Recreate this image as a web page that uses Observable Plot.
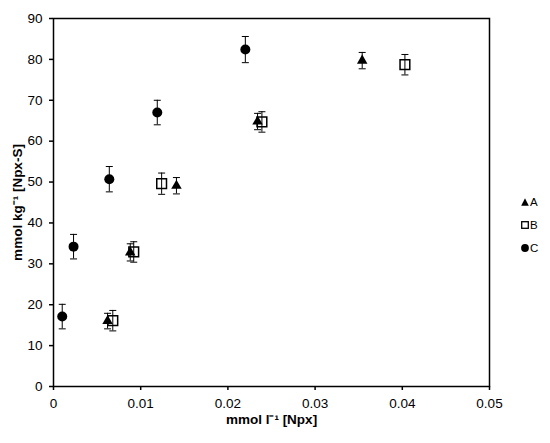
<!DOCTYPE html>
<html>
<head>
<meta charset="utf-8">
<script src="https://cdn.jsdelivr.net/npm/d3@7"></script>
<script src="https://cdn.jsdelivr.net/npm/@observablehq/plot@0.6"></script>
<style>
  html, body { margin: 0; padding: 0; background: #fff; }
  #wrap { position: relative; width: 550px; height: 443px; font-family: "Liberation Sans", Arial, sans-serif; }
  #legend { position: absolute; left: 521px; top: 190px; font-size: 11.5px; color: #000; }
  #legend .item { display: flex; align-items: center; height: 23px; }
  #legend svg { margin-right: 1px; }
</style>
</head>
<body>
<div id="wrap"></div>
<script>
// ---- data ----
const series = ["A", "B", "C"];
const xTicks = [0, 0.01, 0.02, 0.03, 0.04, 0.05];
const yTicks = [0, 10, 20, 30, 40, 50, 60, 70, 80, 90];

const aX   = [0.0062, 0.0088, 0.0141, 0.0234, 0.0354];
const aY   = [16.0, 32.8, 49.1, 64.8, 79.7];
const aErr = [1.9, 2.1, 2.0, 2.0, 2.0];

const bX   = [0.0068, 0.0092, 0.0124, 0.0239, 0.0403];
const bY   = [16.1, 32.9, 49.6, 64.7, 78.7];
const bErr = [2.5, 2.5, 2.6, 2.5, 2.5];

const cX   = [0.0010, 0.0023, 0.0064, 0.0119, 0.0220];
const cY   = [17.1, 34.2, 50.7, 67.0, 82.4];
const cErr = [3.0, 3.0, 3.1, 3.0, 3.2];

const xTitle = "mmol l\u207B\u00B9 [Npx]";
const yTitle = "mmol kg\u207B\u00B9 [Npx-S]";

// ---- table ----
const data = [];
[[aX, aY, aErr], [bX, bY, bErr], [cX, cY, cErr]].forEach(([xs, ys, es], k) => {
  xs.forEach((x, i) => data.push({series: series[k], x, y: ys[i], err: es[i]}));
});
const ofSeries = s => data.filter(d => d.series === s);

const cap = { draw(ctx) { ctx.moveTo(-3.5, 0); ctx.lineTo(3.5, 0); } };

const chart = Plot.plot({
  width: 550,
  height: 443,
  marginLeft: 53,
  marginRight: 61,
  marginTop: 18,
  marginBottom: 57,
  style: { fontFamily: "'Liberation Sans', Arial, sans-serif", fontSize: "13.5px", color: "#000", background: "#fff" },
  x: { domain: [0, 0.05] },
  y: { domain: [0, 90] },
  marks: [
    Plot.axisX({ ticks: xTicks, tickFormat: d => String(d), tickSize: 4, tickPadding: 8, label: null, fontSize: 13.5, strokeWidth: 1.5 }),
    Plot.axisY({ ticks: yTicks, tickFormat: d => String(d), tickSize: 4, tickPadding: 7, label: null, fontSize: 13.5, strokeWidth: 1.5 }),
    Plot.frame({ stroke: "#000", strokeWidth: 1.5 }),
    Plot.ruleX(data, { x: "x", y1: d => d.y - d.err, y2: d => d.y + d.err, stroke: "#000", strokeWidth: 1 }),
    Plot.dot(data, { x: "x", y: d => d.y + d.err, symbol: cap, stroke: "#000", strokeWidth: 1 }),
    Plot.dot(data, { x: "x", y: d => d.y - d.err, symbol: cap, stroke: "#000", strokeWidth: 1 }),
    Plot.dot(ofSeries("A"), { x: "x", y: "y", symbol: "triangle2", r: 5, fill: "#000" }),
    Plot.dot(ofSeries("B"), { x: "x", y: "y", symbol: "square", r: 5.5, fill: "none", stroke: "#000", strokeWidth: 1.5 }),
    Plot.dot(ofSeries("C"), { x: "x", y: "y", symbol: "circle", r: 5, fill: "#000" }),
    Plot.text([xTitle], { text: d => d, frameAnchor: "bottom", dy: 37, fontWeight: "bold", fontSize: 13.5 }),
    Plot.text([yTitle], { text: d => d, frameAnchor: "left", textAnchor: "middle", dx: -36, rotate: -90, fontWeight: "bold", fontSize: 13.5 })
  ]
});

const wrap = document.getElementById("wrap");
wrap.appendChild(chart);

// legend
const glyphs = {
  A: '<svg width="8" height="8" viewBox="0 0 8 8"><polygon points="4,0.3 7.8,7.7 0.2,7.7" fill="#000"/></svg>',
  B: '<svg width="8" height="8" viewBox="0 0 8 8"><rect x="0.7" y="0.7" width="6.6" height="6.6" fill="none" stroke="#000" stroke-width="1.3"/></svg>',
  C: '<svg width="8" height="8" viewBox="0 0 8 8"><circle cx="4" cy="4" r="3.9" fill="#000"/></svg>'
};
const legend = document.createElement("div");
legend.id = "legend";
legend.innerHTML = series.map(s => `<div class="item">${glyphs[s]}<span>${s}</span></div>`).join("");
wrap.appendChild(legend);
</script>
</body>
</html>
